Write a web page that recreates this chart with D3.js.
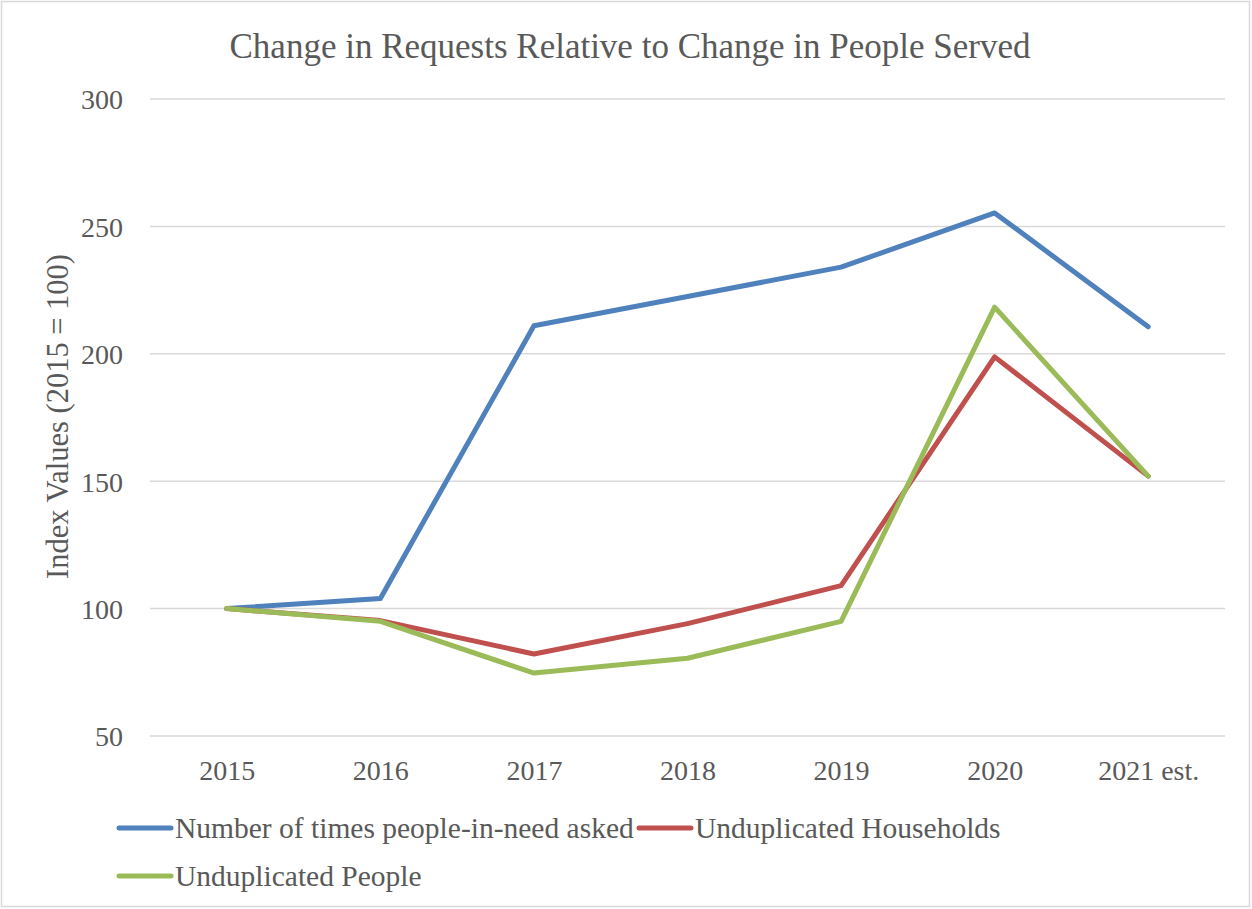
<!DOCTYPE html>
<html>
<head>
<meta charset="utf-8">
<script src="https://cdn.jsdelivr.net/npm/d3@7"></script>
<style>
  html, body { margin: 0; padding: 0; background: #fff; }
  svg text { font-family: "Liberation Serif", "Times New Roman", serif; fill: #595959; }
</style>
</head>
<body>
<svg id="chart" width="1252" height="909"></svg>
<script>
const categories = ["2015", "2016", "2017", "2018", "2019", "2020", "2021 est."];
const seriesNames = ["Number of times people-in-need asked", "Unduplicated Households", "Unduplicated People"];
const askedValues = [100, 104, 211, 222.5, 234, 255.3, 210.6];
const householdValues = [100, 95.3, 82.2, 94.1, 109, 198.8, 152];
const peopleValues = [100, 95, 74.7, 80.5, 95, 218.3, 152];
const yTicks = [50, 100, 150, 200, 250, 300];
const colors = ["#4f81bd", "#c0504d", "#9bbb59"];
const title = "Change in Requests Relative to Change in People Served";
const yTitle = "Index Values (2015 = 100)";

const svg = d3.select("#chart");
const margin = { left: 150, right: 1225, top: 99, bottom: 736 };

svg.append("rect").attr("x", 1.5).attr("y", 1.5).attr("width", 1248).attr("height", 905)
  .attr("fill", "#fff").attr("stroke", "#d9d9d9").attr("stroke-width", 1.5);

const x = d3.scalePoint().domain(categories).range([margin.left, margin.right]).padding(0.5);
const y = d3.scaleLinear().domain([50, 300]).range([margin.bottom, margin.top]);

// gridlines
svg.append("g").selectAll("line").data(yTicks).join("line")
  .attr("x1", margin.left).attr("x2", margin.right)
  .attr("y1", d => y(d)).attr("y2", d => y(d))
  .attr("stroke", "#d9d9d9").attr("stroke-width", 1.5);

// y axis labels
const yAxis = d3.axisLeft(y).tickValues(yTicks).tickSize(0).tickPadding(0);
const yg = svg.append("g").attr("transform", `translate(${margin.left - 27},0)`).call(yAxis);
yg.select(".domain").remove();
yg.selectAll("text").style("font-family", '"Liberation Serif", serif').style("font-size", "28px").attr("fill", "#595959").attr("dy", "0.35em");

// x axis labels
const xAxis = d3.axisBottom(x).tickSize(0).tickPadding(0);
const xg = svg.append("g").attr("transform", `translate(0,${margin.bottom + 34})`).call(xAxis);
xg.select(".domain").remove();
xg.selectAll("text").style("font-family", '"Liberation Serif", serif').style("font-size", "28px").attr("fill", "#595959").attr("dy", "0.35em");

// lines
const allSeries = [askedValues, householdValues, peopleValues];
const line = d3.line().x((d, i) => x(categories[i])).y(d => y(d));
allSeries.forEach((vals, k) => {
  svg.append("path").datum(vals).attr("d", line)
    .attr("fill", "none").attr("stroke", colors[k]).attr("stroke-width", 5)
    .attr("stroke-linejoin", "round").attr("stroke-linecap", "round");
});

// title
svg.append("text").attr("x", 630).attr("y", 46).attr("dy", "0.35em")
  .attr("text-anchor", "middle").style("font-size", "35px").text(title);

// y title
svg.append("text").attr("transform", `translate(57,${(margin.top + margin.bottom) / 2 - 1}) rotate(-90)`)
  .attr("dy", "0.35em").attr("text-anchor", "middle").style("font-size", "30.5px").text(yTitle);

// legend
const legendItems = [
  { name: seriesNames[0], color: colors[0], x: 117, y: 828 },
  { name: seriesNames[1], color: colors[1], x: 637, y: 828 },
  { name: seriesNames[2], color: colors[2], x: 117, y: 876 }
];
const lg = svg.append("g");
legendItems.forEach(it => {
  lg.append("line").attr("x1", it.x + 2).attr("x2", it.x + 54).attr("y1", it.y).attr("y2", it.y)
    .attr("stroke", it.color).attr("stroke-width", 5).attr("stroke-linecap", "round");
  lg.append("text").attr("x", it.x + 58).attr("y", it.y).attr("dy", "0.35em")
    .style("font-size", "29.5px").text(it.name);
});
</script>
</body>
</html>
